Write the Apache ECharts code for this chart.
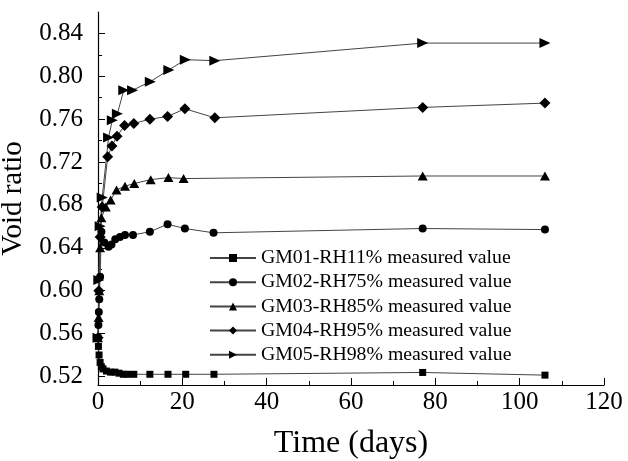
<!DOCTYPE html>
<html>
<head>
<meta charset="utf-8">
<script src="https://cdn.jsdelivr.net/npm/echarts@6/dist/echarts.min.js"></script>
<style>
html, body { margin: 0; padding: 0; background: #fff; }
#main { width: 628px; height: 461px; }
</style>
</head>
<body>
<div id="main"></div>
<script>
// series names (legend order)
var names = ['GM01-RH11% measured value', 'GM02-RH75% measured value', 'GM03-RH85% measured value',
             'GM04-RH95% measured value', 'GM05-RH98% measured value'];

// [time (days), void ratio]
var gm01 = [[0, 0.556], [0.1, 0.548], [0.25, 0.540], [0.5, 0.533], [0.8, 0.529], [1.2, 0.527], [2, 0.525],
            [3, 0.524], [4, 0.524], [5, 0.523], [6, 0.522], [7, 0.522], [8.5, 0.522], [12.3, 0.522],
            [16.6, 0.522], [20.8, 0.522], [27.5, 0.522], [77, 0.5237], [106, 0.5212]];
var gm02 = [[0, 0.556], [0.1, 0.568], [0.2, 0.580], [0.3, 0.592], [0.5, 0.613], [0.8, 0.655], [1.5, 0.645],
            [2.5, 0.641], [3.2, 0.643], [4.1, 0.648], [5.2, 0.650], [6.4, 0.652], [8.3, 0.652],
            [12.3, 0.655], [16.5, 0.662], [20.6, 0.658], [27.4, 0.654], [77, 0.658], [106, 0.657]];
var gm03 = [[0, 0.556], [0.15, 0.575], [0.3, 0.600], [0.5, 0.640], [0.8, 0.668], [1.85, 0.678],
            [3.0, 0.6845], [4.4, 0.694], [6.4, 0.6975], [8.6, 0.700], [12.5, 0.7036], [16.7, 0.7055],
            [20.3, 0.7046], [77, 0.707], [106, 0.707]];
var gm04 = [[0, 0.556], [0.2, 0.600], [0.5, 0.650], [1.0, 0.678], [2.3, 0.725], [3.3, 0.735], [4.5, 0.744],
            [6.3, 0.754], [8.5, 0.756], [12.3, 0.760], [16.5, 0.7625], [20.6, 0.7697], [27.7, 0.7613],
            [77, 0.771], [106, 0.775]];
var gm05 = [[0, 0.556], [0.2, 0.610], [0.5, 0.660], [1.0, 0.687], [2.5, 0.743], [3.4, 0.759], [4.6, 0.765],
            [6.1, 0.787], [8.2, 0.787], [12.4, 0.795], [16.8, 0.806], [20.7, 0.8155], [27.7, 0.8146],
            [77, 0.831], [106, 0.831]];

var yLabels = [0.52, 0.56, 0.60, 0.64, 0.68, 0.72, 0.76, 0.80, 0.84];
var yMinor = [0.54, 0.58, 0.62, 0.66, 0.70, 0.74, 0.78, 0.82];

var font = '"Liberation Serif", "Times New Roman", serif';

function line(name, data, symbol, size, rotate) {
    return {
        name: name,
        type: 'line',
        data: data,
        symbol: symbol,
        symbolSize: size,
        symbolRotate: rotate || 0,
        showAllSymbol: true,
        itemStyle: { color: '#000' },
        lineStyle: { color: '#444', width: 1 },
        emphasis: { disabled: true },
        z: 3
    };
}

var chart = echarts.init(document.getElementById('main'));
var option = {
    animation: false,
    backgroundColor: '#fff',
    textStyle: { fontFamily: font },
    grid: { left: 98, right: 24, top: 12, bottom: 76, containLabel: false, outerBoundsMode: 'none' },
    legend: {
        orient: 'vertical',
        left: 209,
        top: 248,
        padding: 0,
        itemWidth: 46,
        itemHeight: 10,
        itemGap: 4.2,
        textStyle: { fontFamily: font, fontSize: 19.8, color: '#000' },
        data: names
    },
    xAxis: {
        type: 'value',
        min: 0, max: 120, interval: 20,
        name: 'Time (days)',
        nameLocation: 'middle',
        nameGap: 43,
        nameTextStyle: { fontFamily: font, fontSize: 32, color: '#000' },
        axisLine: { lineStyle: { color: '#000', width: 1.2 } },
        axisTick: { inside: true, length: 7, lineStyle: { color: '#000' } },
        minorTick: { show: true, splitNumber: 2, length: 4, lineStyle: { color: '#000' } },
        axisLabel: { fontFamily: font, fontSize: 25, color: '#000', margin: 5 },
        splitLine: { show: false }
    },
    yAxis: [{
        type: 'value',
        min: 0.512, max: 0.86,
        name: 'Void ratio',
        nameLocation: 'middle',
        nameGap: 63,
        nameTextStyle: { fontFamily: font, fontSize: 29, color: '#000', padding: [0, 0, 0, 0] },
        axisLine: { show: true, lineStyle: { color: '#000', width: 1.2 } },
        axisTick: { inside: true, length: 7, customValues: yLabels, lineStyle: { color: '#000' } },
        axisLabel: {
            fontFamily: font, fontSize: 25, color: '#000', margin: 15,
            customValues: yLabels,
            formatter: function (v) { return v.toFixed(2); }
        },
        splitLine: { show: false }
    }, {
        type: 'value',
        min: 0.512, max: 0.86,
        position: 'left',
        axisLine: { show: false },
        axisTick: { show: true, inside: true, length: 4, customValues: yMinor, lineStyle: { color: '#000' } },
        axisLabel: { show: false },
        splitLine: { show: false }
    }],
    series: [
        line(names[0], gm01, 'rect', 7),
        line(names[1], gm02, 'circle', 8),
        line(names[2], gm03, 'triangle', [10, 9]),
        line(names[3], gm04, 'diamond', 11),
        line(names[4], gm05, 'triangle', [10, 11], -90)
    ]
};
chart.setOption(option);
</script>
</body>
</html>
